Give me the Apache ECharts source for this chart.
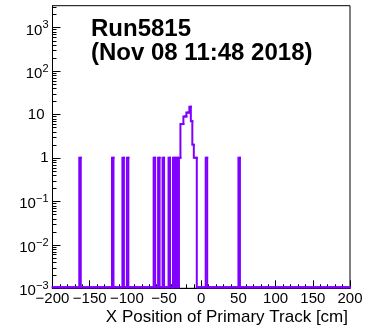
<!DOCTYPE html>
<html>
<head>
<meta charset="utf-8">
<script src="https://cdn.jsdelivr.net/npm/echarts@6/dist/echarts.min.js"></script>
<style>
html,body{margin:0;padding:0;background:#fff;}
#chart{width:368px;height:331px;}
</style>
</head>
<body>
<div id="chart"></div>
<script>
// ---- data ----
const titleLines = ['Run5815', '(Nov 08 11:48 2018)'];
const xAxisTitle = 'X Position of Primary Track [cm]';
const xRange = [-200, 200];
const binWidth = 2;
const yRange = [0.001, 3162.28];
// non-empty histogram bins: left edge of bin and entries
const binLeftEdges = [-164, -120, -106, -100, -64, -58, -52, -44, -38, -34, -30,
                      -28, -26, -24, -22, -20, -18, -16, -14, -12, -10, -8, 6, 50];
const binCounts    = [1, 1, 1, 1, 1, 1, 1, 1, 1, 1, 1,
                      6, 6, 9, 9, 11, 11, 15, 7, 2, 1, 1, 1, 1];
const yDecades = [-3, -2, -1, 0, 1, 2, 3];

// ---- build histogram bins (empty bins are drawn at the axis minimum, as ROOT does) ----
const countByEdge = {};
binLeftEdges.forEach((e, i) => { countByEdge[e] = binCounts[i]; });
const histBins = []; // [left, right, count, previous bin count]
let prev = yRange[0];
for (let e = xRange[0]; e < xRange[1]; e += binWidth) {
  const c = countByEdge[e] ? countByEdge[e] : yRange[0];
  histBins.push([e, e + binWidth, c, prev]);
  prev = c;
}
histBins.push([xRange[1], xRange[1], yRange[0], prev]);

// minor tick values for log axis (2..9 x 10^n)
const yMinorTicks = [];
yDecades.forEach(d => {
  for (let m = 2; m <= 9; m++) {
    const v = m * Math.pow(10, d);
    if (v < yRange[1]) yMinorTicks.push([xRange[0], v]);
  }
});

const FONT = '"Liberation Sans", Arial, Helvetica, sans-serif';
const chart = echarts.init(document.getElementById('chart'), null, {renderer: 'canvas'});

function yLabel(v) {
  const e = Math.round(Math.log10(v));
  if (Math.abs(Math.log10(v) - e) > 1e-6) return '';
  if (e === 0) return '1';
  if (e === 1) return '{p|10}';
  return '{b|10}{e|' + (e < 0 ? '\u2212' : '') + Math.abs(e) + '}';
}

chart.setOption({
  animation: false,
  backgroundColor: '#fff',
  title: {
    text: titleLines.join('\n'),
    left: 86,
    top: 13,
    textStyle: {fontFamily: FONT, fontSize: 24, fontWeight: 'bold', color: '#000', lineHeight: 23.5}
  },
  grid: {
    left: 52.5, right: 18, top: 5.7, bottom: 42.7,
    show: true, borderColor: '#000', borderWidth: 1, backgroundColor: 'transparent'
  },
  xAxis: {
    type: 'value',
    min: xRange[0], max: xRange[1], interval: 50,
    axisLine: {show: true, onZero: false, lineStyle: {color: '#000', width: 1}},
    axisTick: {show: true, inside: true, length: 8, lineStyle: {color: '#000'}},
    minorTick: {show: true, splitNumber: 5, length: 4, lineStyle: {color: '#000'}},
    splitLine: {show: false},
    axisLabel: {
      fontFamily: FONT, fontSize: 15, color: '#000', margin: 3,
      formatter: v => String(v).replace('-', '\u2212')
    },
    name: xAxisTitle,
    nameLocation: 'end',
    nameGap: -2,
    nameTextStyle: {fontFamily: FONT, fontSize: 17, color: '#000', align: 'right', verticalAlign: 'top', padding: [21, 0, 0, 0]}
  },
  yAxis: {
    type: 'log',
    logBase: 10,
    min: yRange[0], max: yRange[1],
    axisLine: {show: true, onZero: false, lineStyle: {color: '#000', width: 1}},
    axisTick: {show: true, inside: true, length: 8, lineStyle: {color: '#000'}},
    splitLine: {show: false},
    axisLabel: {
      fontFamily: FONT, fontSize: 15, color: '#000', margin: 4,
      showMaxLabel: false,
      formatter: yLabel,
      rich: {
        b: {fontFamily: FONT, fontSize: 15, color: '#000', padding: [6, 0, 0, 0]},
        p: {fontFamily: FONT, fontSize: 15, color: '#000', padding: [0, 4, 0, 0]},
        e: {fontFamily: FONT, fontSize: 11, color: '#000', padding: [0, 0, 4, 0]}
      }
    }
  },
  series: [
    {
      type: 'custom',
      data: histBins,
      clip: false,
      z: 3,
      renderItem: (params, api) => {
        const cs = params.coordSys;
        const bottom = cs.y + cs.height - 1;
        const clampY = y => Math.min(Math.max(y, cs.y), bottom);
        const pPrev = api.coord([api.value(0), api.value(3)]);
        const pL = api.coord([api.value(0), api.value(2)]);
        const pR = api.coord([api.value(1), api.value(2)]);
        return {
          type: 'polyline',
          shape: {points: [[pPrev[0], clampY(pPrev[1])], [pL[0], clampY(pL[1])], [pR[0], clampY(pR[1])]]},
          style: {stroke: '#8000ff', lineWidth: 2, fill: null, lineCap: 'square', lineJoin: 'miter'}
        };
      }
    },
    {
      type: 'custom',
      data: yMinorTicks,
      clip: false,
      z: 4,
      renderItem: (params, api) => {
        const p = api.coord([api.value(0), api.value(1)]);
        const y = Math.round(p[1]) + 0.5;
        return {
          type: 'line',
          shape: {x1: p[0], y1: y, x2: p[0] + 4, y2: y},
          style: {stroke: '#000', lineWidth: 1}
        };
      }
    }
  ]
});
</script>
</body>
</html>
